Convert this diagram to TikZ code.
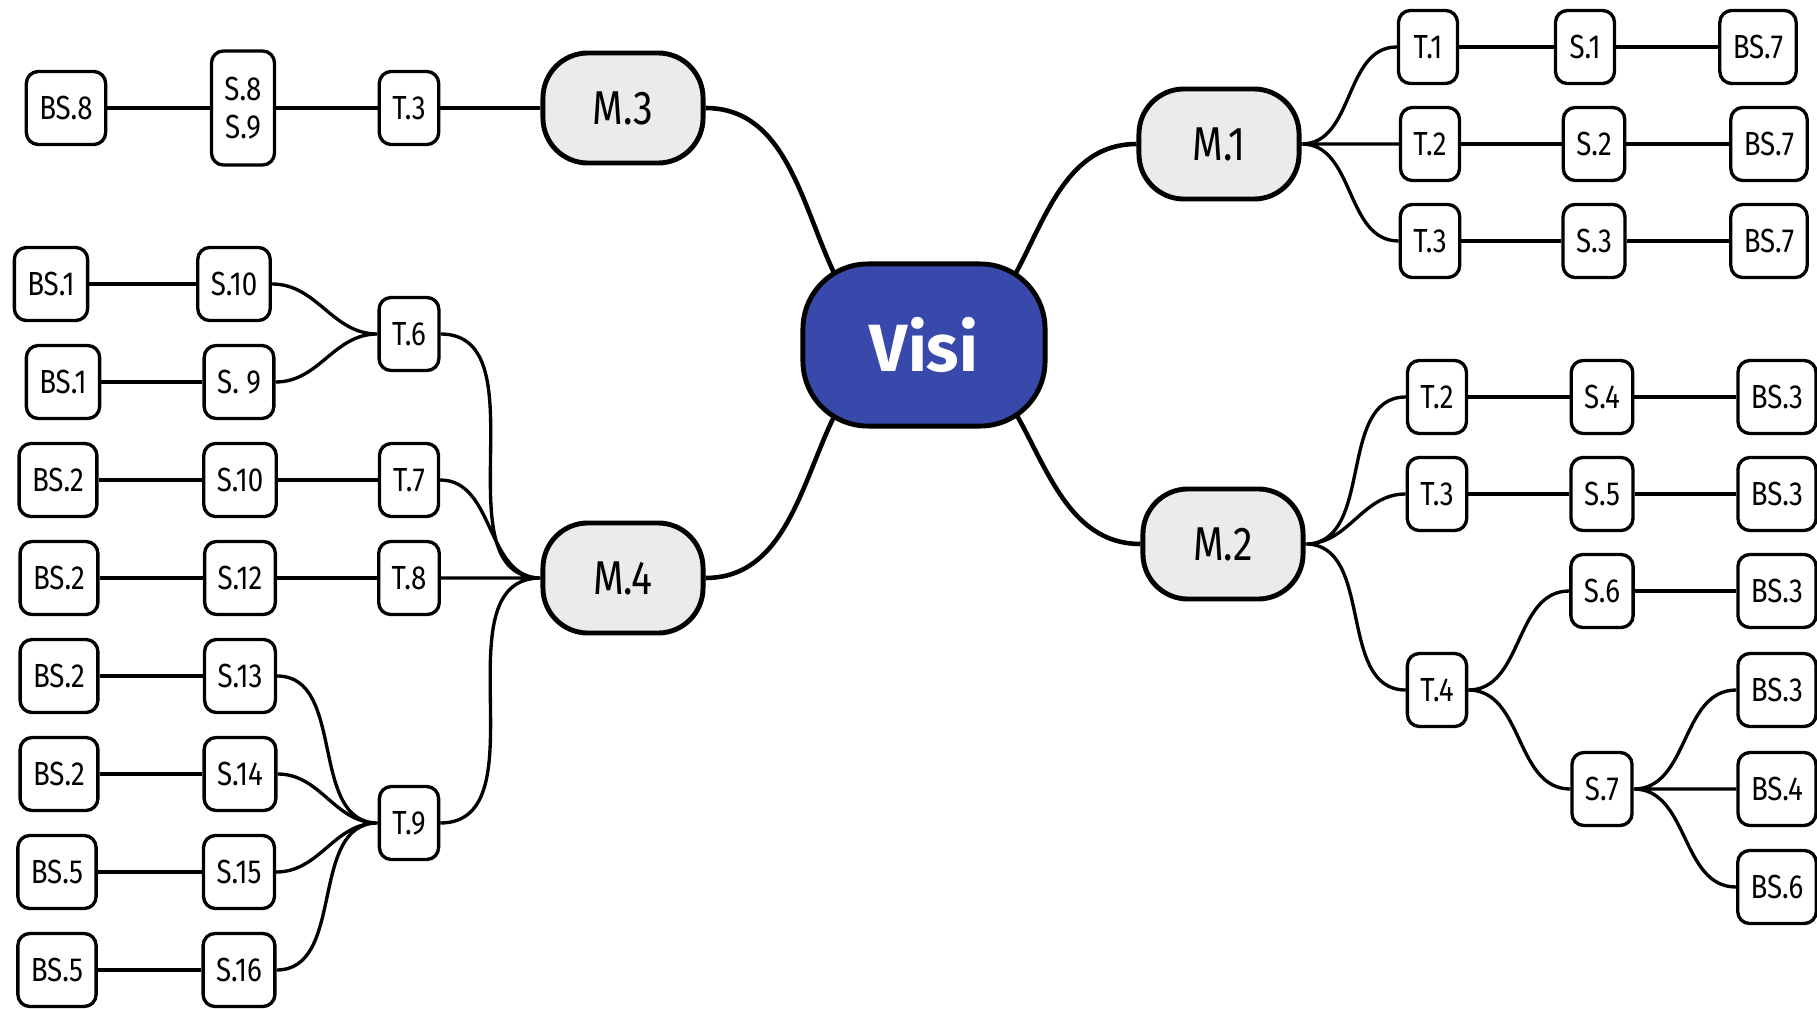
\documentclass[tikz,border=0pt]{standalone}
\usepackage{fontspec}
\setmainfont{Fira Sans}
\newfontfamily\boxfont[FakeStretch=0.83]{Fira Sans}
\usepackage{tikz}
\usetikzlibrary{backgrounds}
\usepackage{xcolor}
\definecolor{visiblue}{RGB}{57,73,171}
\definecolor{mgray}{RGB}{235,235,235}

\tikzset{
	visinode/.style={draw=black, fill=visiblue, line width=1.4pt, rounded corners=0.65cm, minimum width=2.42cm, minimum height=1.62cm, text=white, font=\fontsize{19}{21}\selectfont\bfseries},
	mnode/.style={draw=black, fill=mgray, line width=1.4pt, rounded corners=0.45cm, minimum width=1.6cm, minimum height=1.1cm, font=\boxfont\fontsize{13.5}{15}\selectfont},
	box/.style={draw=black, fill=white, line width=0.95pt, rounded corners=0.12cm, inner xsep=0.13cm, minimum width=0.59cm, minimum height=0.73cm, align=center, font=\boxfont\fontsize{9.5}{11}\selectfont},
	trunk/.style={line width=1.3pt, out=0, in=180},
	branch/.style={line width=0.95pt, out=0, in=180},
	twig/.style={line width=0.95pt}
}

\begin{document}
\begin{tikzpicture}[x=0.01cm, y=-0.01cm]
	\useasboundingbox (0,0) rectangle (1817,1009);
	
	% centre and main topics
	\node[visinode] (visi) at (924,345) {Visi};
	\node[mnode] (m1) at (1219,144) {M.1};
	\node[mnode] (m2) at (1223,544) {M.2};
	\node[mnode] (m3) at (623,108) {M.3};
	\node[mnode] (m4) at (623,578) {M.4};
	
	% M.1
	\node[box] (m1t1) at (1428,47) {T.1};
	\node[box] (m1s1) at (1585,47) {S.1};
	\node[box] (m1b1) at (1758,47) {BS.7};
	\node[box] (m1t2) at (1430,144) {T.2};
	\node[box] (m1s2) at (1594,144) {S.2};
	\node[box] (m1b2) at (1769,144) {BS.7};
	\node[box] (m1t3) at (1430,241) {T.3};
	\node[box] (m1s3) at (1594,241) {S.3};
	\node[box] (m1b3) at (1769,241) {BS.7};
	
	% M.2
	\node[box] (m2t2) at (1437,397) {T.2};
	\node[box] (m2s4) at (1602,397) {S.4};
	\node[box] (m2b1) at (1777,397) {BS.3};
	\node[box] (m2t3) at (1437,494) {T.3};
	\node[box] (m2s5) at (1602,494) {S.5};
	\node[box] (m2b2) at (1777,494) {BS.3};
	\node[box] (m2s6) at (1602,591) {S.6};
	\node[box] (m2b3) at (1777,591) {BS.3};
	\node[box] (m2t4) at (1437,690) {T.4};
	\node[box] (m2b4) at (1777,690) {BS.3};
	\node[box] (m2s7) at (1602,789) {S.7};
	\node[box] (m2b5) at (1777,789) {BS.4};
	\node[box] (m2b6) at (1777,887) {BS.6};
	
	% M.3
	\node[box] (m3t3) at (409,108) {T.3};
	\node[box, minimum height=1.14cm] (m3s8) at (243,108) {S.8\\S.9};
	\node[box] (m3b8) at (66,108) {BS.8};
	
	% M.4
	\node[box] (m4t6) at (409,334) {T.6};
	\node[box] (m4s10a) at (234,284) {S.10};
	\node[box] (m4b1a) at (51,284) {BS.1};
	\node[box] (m4s9) at (239,382) {S. 9};
	\node[box] (m4b1b) at (63,382) {BS.1};
	\node[box] (m4t7) at (409,480) {T.7};
	\node[box] (m4s10b) at (240,480) {S.10};
	\node[box] (m4b2a) at (58,480) {BS.2};
	\node[box] (m4t8) at (409,578) {T.8};
	\node[box] (m4s12) at (240,578) {S.12};
	\node[box] (m4b2b) at (59,578) {BS.2};
	\node[box] (m4s13) at (240,676) {S.13};
	\node[box] (m4b2c) at (59,676) {BS.2};
	\node[box] (m4s14) at (240,774) {S.14};
	\node[box] (m4b2d) at (59,774) {BS.2};
	\node[box] (m4t9) at (409,823) {T.9};
	\node[box] (m4s15) at (239,872) {S.15};
	\node[box] (m4b5a) at (57,872) {BS.5};
	\node[box] (m4s16) at (239,970) {S.16};
	\node[box] (m4b5b) at (57,970) {BS.5};
	
	\begin{scope}[on background layer]
		% trunks from the centre
		\draw[trunk] (visi.center) to (m1.west);
		\draw[trunk] (visi.center) to (m2.west);
		\draw[trunk] (m3.east) to (visi.center);
		\draw[trunk] (m4.east) to (visi.center);
		
		% M.1 side
		\draw[branch] (m1.east) to (m1t1.west) (m1.east) to (m1t2.west) (m1.east) to (m1t3.west);
		\draw[twig] (m1t1) -- (m1s1) -- (m1b1);
		\draw[twig] (m1t2) -- (m1s2) -- (m1b2);
		\draw[twig] (m1t3) -- (m1s3) -- (m1b3);
		
		% M.2 side
		\draw[branch] (m2.east) to (m2t2.west) (m2.east) to (m2t3.west) (m2.east) to (m2t4.west);
		\draw[twig] (m2t2) -- (m2s4) -- (m2b1);
		\draw[twig] (m2t3) -- (m2s5) -- (m2b2);
		\draw[twig] (m2s6) -- (m2b3);
		\draw[branch] (m2t4.east) to (m2s6.west) (m2t4.east) to (m2s7.west);
		\draw[branch] (m2s7.east) to (m2b4.west) (m2s7.east) to (m2b5.west) (m2s7.east) to (m2b6.west);
		
		% M.3 side
		\draw[twig] (m3b8) -- (m3s8) -- (m3t3) -- (m3);
		
		% M.4 side
		\draw[twig] (m4b1a) -- (m4s10a);
		\draw[twig] (m4b1b) -- (m4s9);
		\draw[branch] (m4s10a.east) to (m4t6.west) (m4s9.east) to (m4t6.west);
		\draw[twig] (m4b2a) -- (m4s10b) -- (m4t7);
		\draw[twig] (m4b2b) -- (m4s12) -- (m4t8);
		\draw[branch] (m4t6.east) to (m4.west) (m4t7.east) to (m4.west) (m4t8.east) to (m4.west) (m4t9.east) to (m4.west);
		\draw[twig] (m4b2c) -- (m4s13);
		\draw[twig] (m4b2d) -- (m4s14);
		\draw[twig] (m4b5a) -- (m4s15);
		\draw[twig] (m4b5b) -- (m4s16);
		\draw[branch] (m4s13.east) to (m4t9.west) (m4s14.east) to (m4t9.west) (m4s15.east) to (m4t9.west) (m4s16.east) to (m4t9.west);
	\end{scope}
	
\end{tikzpicture}
\end{document}
